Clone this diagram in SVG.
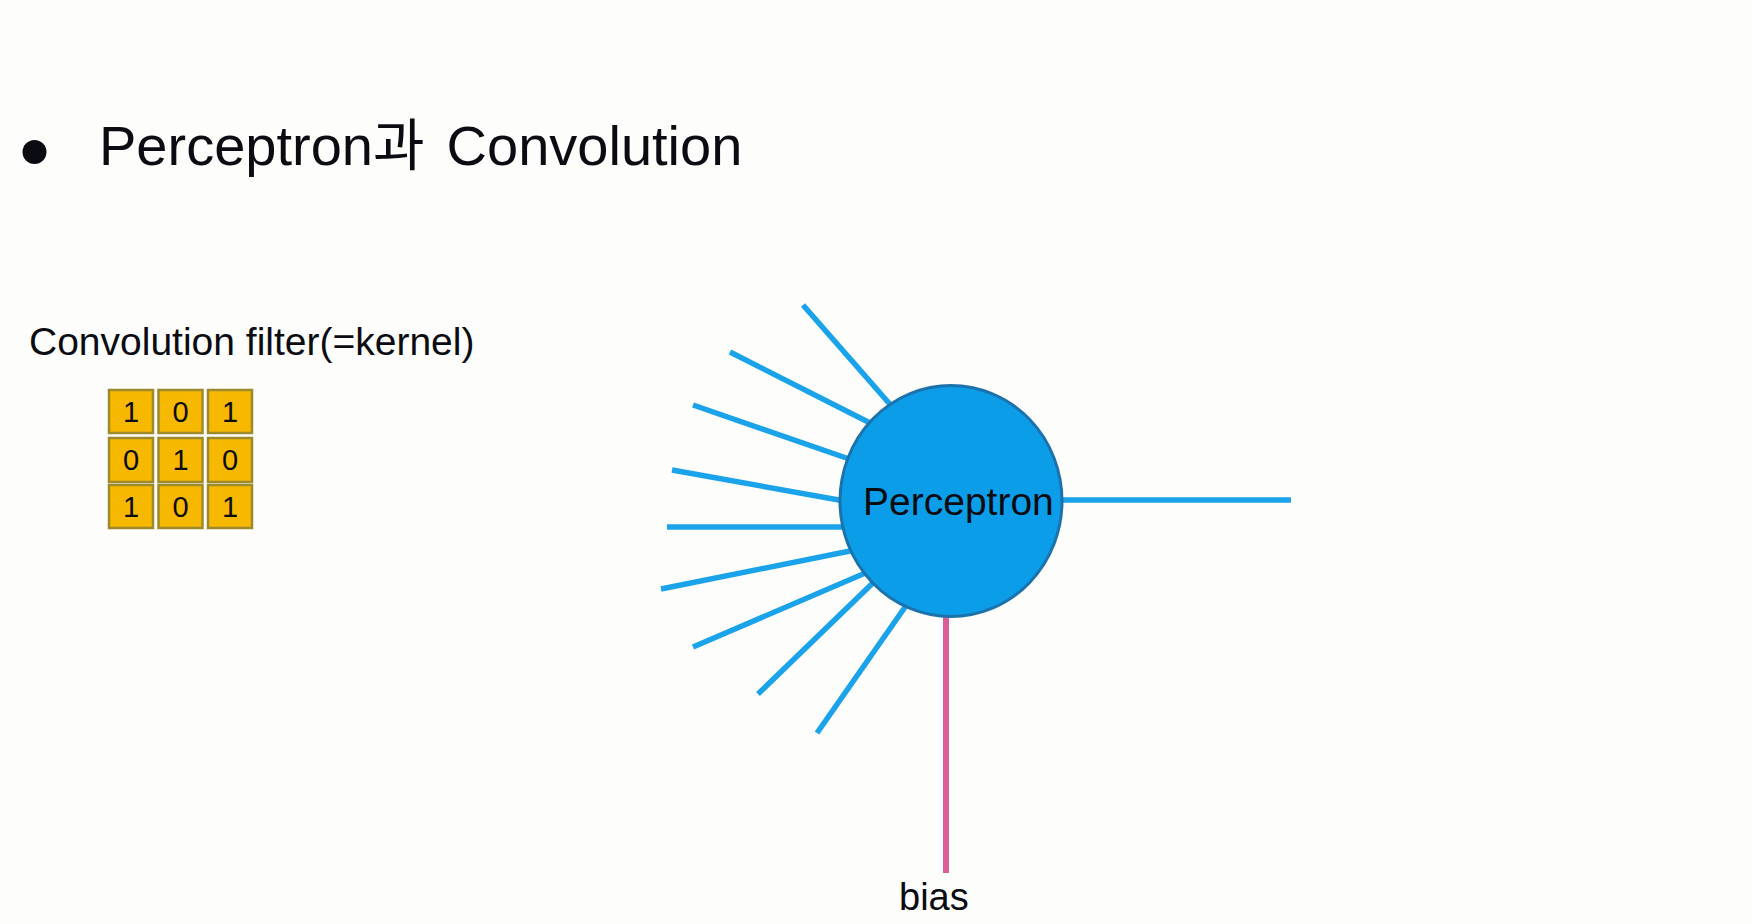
<svg xmlns="http://www.w3.org/2000/svg" width="1752" height="924" viewBox="0 0 1752 924">
<style>
text{font-family:"Liberation Sans","Noto Sans CJK KR",sans-serif;fill:#0b0b12}
.cell{fill:#F7B800;stroke:#9C8A2C;stroke-width:2.5}
.dg{font-size:29px;text-anchor:middle}
.in{stroke:#1AA3EA;stroke-width:5.5;stroke-linecap:butt}
</style>
<rect width="1752" height="924" fill="#FDFDFB"/>
<g id="title">
<circle cx="34.5" cy="152" r="12" fill="#0b0b12"/>
<text x="99" y="165" font-size="56">Perceptron과<tspan x="431"> Convolution</tspan></text>
</g>
<g id="kernel">
<text x="29" y="355" font-size="39">Convolution filter(=kernel)</text>
<rect class="cell" x="109" y="390" width="44" height="43"/>
<rect class="cell" x="158.5" y="390" width="44" height="43"/>
<rect class="cell" x="208" y="390" width="44" height="43"/>
<rect class="cell" x="109" y="438" width="44" height="44"/>
<rect class="cell" x="158.5" y="438" width="44" height="44"/>
<rect class="cell" x="208" y="438" width="44" height="44"/>
<rect class="cell" x="109" y="485" width="44" height="43"/>
<rect class="cell" x="158.5" y="485" width="44" height="43"/>
<rect class="cell" x="208" y="485" width="44" height="43"/>
<text class="dg" x="131" y="422">1</text>
<text class="dg" x="180.5" y="422">0</text>
<text class="dg" x="230" y="422">1</text>
<text class="dg" x="131" y="470">0</text>
<text class="dg" x="180.5" y="470">1</text>
<text class="dg" x="230" y="470">0</text>
<text class="dg" x="131" y="517">1</text>
<text class="dg" x="180.5" y="517">0</text>
<text class="dg" x="230" y="517">1</text>
</g>
<g id="connectors">
<line class="in" x1="803" y1="305" x2="895" y2="410"/>
<line class="in" x1="730" y1="352" x2="880" y2="428"/>
<line class="in" x1="693" y1="405" x2="855" y2="461"/>
<line class="in" x1="672" y1="470" x2="850" y2="502"/>
<line class="in" x1="667" y1="527" x2="850" y2="527"/>
<line class="in" x1="661" y1="589" x2="855" y2="550"/>
<line class="in" x1="693" y1="647" x2="870" y2="571"/>
<line class="in" x1="758" y1="694" x2="878" y2="578"/>
<line class="in" x1="817" y1="733" x2="910" y2="600"/>
<line class="in" x1="1050" y1="500" x2="1291" y2="500"/>
<line x1="946" y1="610" x2="946" y2="873" stroke="#DB5E98" stroke-width="6"/>
</g>
<g id="perceptron">
<ellipse cx="951" cy="501" rx="111" ry="115.5" fill="#0C9DE8" stroke="#1C72AC" stroke-width="3"/>
<text x="863" y="515" font-size="39">Perceptron</text>
</g>
<g id="bias">
<text x="899" y="910" font-size="38">bias</text>
</g>
</svg>
